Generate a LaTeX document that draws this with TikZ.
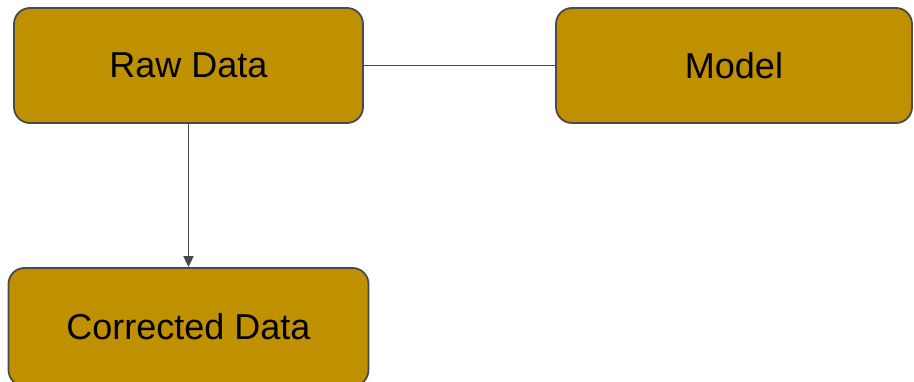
\documentclass[tikz,border=0pt]{standalone}
\usepackage{fontspec}
\setmainfont{Liberation Sans}
\usetikzlibrary{arrows.meta}
\definecolor{boxfill}{HTML}{BF9000}
\definecolor{boxline}{HTML}{4A4A4A}
\tikzset{
  box/.style={draw=boxline, line width=1.8pt, fill=boxfill, rounded corners=16pt, inner sep=0pt, font=\fontsize{36}{42}\selectfont, text=black},
  conn/.style={draw=boxline, line width=1.8pt},
}
\begin{document}
\begin{tikzpicture}[x=1pt,y=-1pt]
\useasboundingbox (0,0) rectangle (914,382);
\begin{scope}
\clip (0,0) rectangle (914,382);
\node[box, minimum width=349pt, minimum height=115pt] (raw) at (188.5,65.5) {Raw Data};
\node[box, minimum width=356pt, minimum height=115pt] (model) at (734,65.5) {Model};
\node[box, minimum width=360pt, minimum height=118pt] (corr) at (188.5,327) {Corrected Data};
\end{scope}
\draw[conn] (raw.east) -- (model.west);
\draw[conn, -{Triangle[length=11pt,width=10pt]}] (raw.south) -- (corr.north);
\end{tikzpicture}
\end{document}
